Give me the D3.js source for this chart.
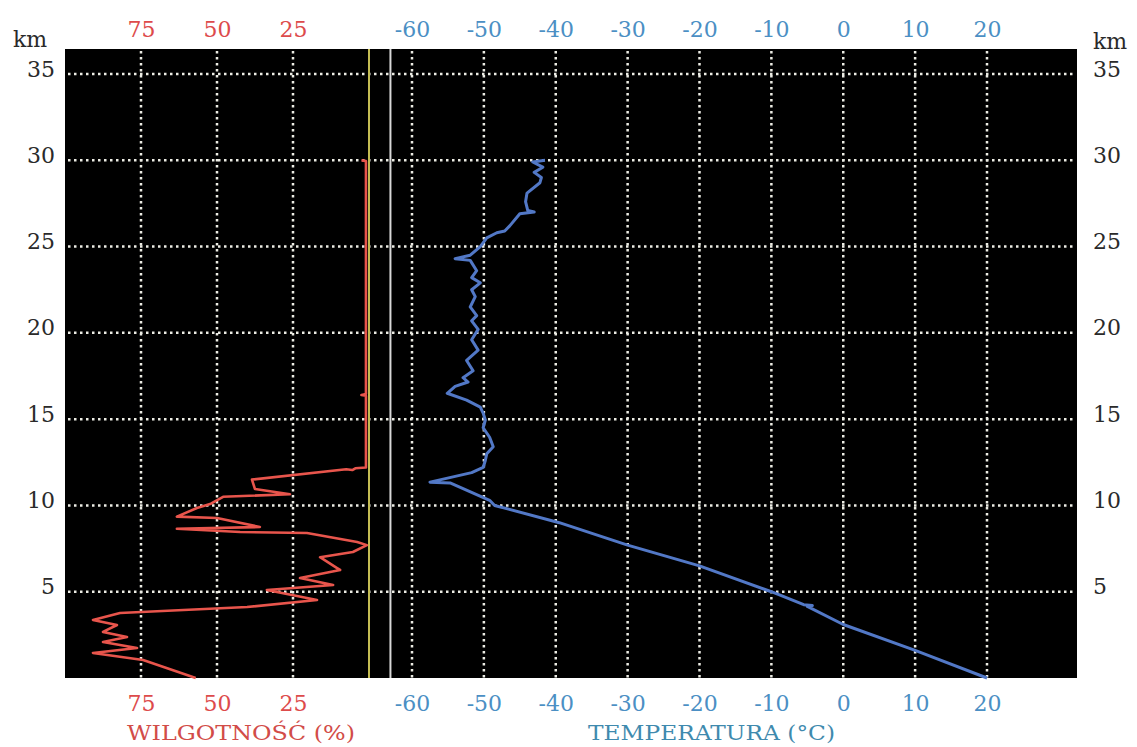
<!DOCTYPE html>
<html lang="pl">
<head>
<meta charset="UTF-8">
<title>Sondaż atmosfery</title>
<script src="https://cdn.jsdelivr.net/npm/d3@7/dist/d3.min.js"></script>
<style>
    body { margin: 0; background: #fff; }
    svg { display: block; }
    .tick text { font-family: "DejaVu Serif", serif; }
    .grid { fill: none; stroke: #ecece4; stroke-width: 2.5; stroke-dasharray: 2.5,3.5; }
</style>
</head>
<body>
<div id="chart"></div>
<script>
// altitude ticks (km) and the two horizontal scales
var kmTicks = [5, 10, 15, 20, 25, 30, 35];
var humTicks = [75, 50, 25];
var tempTicks = [-60, -50, -40, -30, -20, -10, 0, 10, 20];
var humZero = 0;        // yellow reference line
var tempFrame = -63;    // white solid separator

// humidity profile (%), top -> bottom
var humAlt = [30.0, 29.95, 29.9, 16.45, 16.4, 16.35, 12.2, 12.15, 12.05, 12.1, 11.5, 10.95, 10.65, 10.5, 10.1, 9.85, 9.35,
    9.27, 8.75, 8.65, 8.46, 8.4, 7.88, 7.7, 7.3, 7.0, 6.37, 6.26, 5.79, 5.39, 5.1, 4.52, 4.11, 3.77, 3.36, 3.07,
    2.67, 2.38, 2.09, 1.74, 1.45, 1.04, 0.0];
var humVal = [2.5, 1.0, 1.0, 1.0, 2.5, 1.0, 1.0, 4.5, 5.5, 7.5, 38.5, 37.5, 26, 48, 52, 56.6, 63.2,
    50, 35.9, 63.2, 42.4, 20.4, 3.9, 0.7, 5.3, 16.1, 10.5, 9.5, 22.7, 11.8, 33.6, 17.1, 40.1, 81.9, 90.8, 82.9,
    87.5, 79.6, 87.5, 76.3, 90.8, 74.3, 57];

// temperature profile (°C), top -> bottom
var tempAlt = [30.0, 29.9, 29.6, 29.3, 29.0, 28.7, 28.1, 27.6, 27.1, 27.0, 26.9, 26.2, 25.9, 25.8, 25.5, 25.0,
    24.5, 24.3, 24.2, 23.6, 23.2, 22.9, 22.5, 22.1, 21.5, 21.0, 20.7, 20.2, 19.6, 19.0, 18.4, 17.8, 17.4, 17.15,
    16.9, 16.5, 16.1, 15.7, 15.35, 14.95, 14.5, 13.95, 13.4, 13.0, 12.6, 12.2, 11.9, 11.35, 11.3, 10.3, 10.0,
    9.0, 7.7, 6.5, 5.0, 4.25, 4.2, 4.15, 3.1, 1.6, 0.0];
var tempVal = [-41.5, -43.2, -41.8, -43.0, -42.0, -42.2, -44.0, -44.2, -43.9, -43.0, -45.0, -46.4, -47.1, -48.2, -49.6, -50.5,
    -51.9, -54.0, -51.9, -51.0, -51.7, -50.5, -51.7, -51.2, -51.9, -51.0, -51.7, -50.8, -51.7, -50.8, -52.4, -51.5, -52.9, -52.2,
    -54.0, -55.1, -52.4, -50.5, -50.1, -49.8, -50.1, -49.2, -48.7, -49.6, -49.8, -50.1, -51.7, -57.5, -54.7, -49.2, -48.5,
    -39.5, -30, -20, -10, -5.5, -4.3, -5.0, 0, 10, 20];

var W = 1137, H = 747;
var plot = { left: 65, right: 1077, top: 49, bottom: 678 };

var y = d3.scaleLinear().domain([0, 35]).range([plot.bottom, 74]);
var xHum = d3.scaleLinear().domain([100, 0]).range([plot.left, 369]);
var xTemp = d3.scaleLinear().domain([-60, 20]).range([412, 987]);

var red = "#dd4b4b", blue = "#4b8fc4";
var plain = function(d) { return String(d); };  // hyphen minus like the original

var svg = d3.select("#chart").append("svg")
    .attr("width", W).attr("height", H);

svg.append("rect")
    .attr("x", plot.left).attr("y", plot.top)
    .attr("width", plot.right - plot.left).attr("height", plot.bottom - plot.top)
    .attr("fill", "#000");

// dotted grid
svg.selectAll(".hgrid").data(kmTicks).enter().append("line")
    .attr("class", "grid")
    .attr("x1", plot.left + 3).attr("x2", plot.right - 2)
    .attr("y1", d => y(d)).attr("y2", d => y(d));

svg.selectAll(".vhum").data(humTicks).enter().append("line")
    .attr("class", "grid")
    .attr("x1", d => xHum(d)).attr("x2", d => xHum(d))
    .attr("y1", plot.top + 2).attr("y2", plot.bottom);

svg.selectAll(".vtemp").data(tempTicks).enter().append("line")
    .attr("class", "grid")
    .attr("x1", d => xTemp(d)).attr("x2", d => xTemp(d))
    .attr("y1", plot.top + 2).attr("y2", plot.bottom);

// reference lines
svg.append("line")
    .attr("x1", xHum(humZero)).attr("x2", xHum(humZero))
    .attr("y1", plot.top).attr("y2", plot.bottom)
    .attr("stroke", "#c4bc52").attr("stroke-width", 2);

svg.append("line")
    .attr("x1", xTemp(tempFrame)).attr("x2", xTemp(tempFrame))
    .attr("y1", plot.top).attr("y2", plot.bottom)
    .attr("stroke", "#d8d8d8").attr("stroke-width", 2);

// profiles
var humLine = d3.line().x(i => xHum(humVal[i])).y(i => y(humAlt[i]));
var tempLine = d3.line().x(i => xTemp(tempVal[i])).y(i => y(tempAlt[i]));

svg.append("path")
    .attr("d", humLine(d3.range(humVal.length)))
    .attr("fill", "none").attr("stroke", "#e8554c")
    .attr("stroke-width", 2.6).attr("stroke-linejoin", "round");

svg.append("path")
    .attr("d", tempLine(d3.range(tempVal.length)))
    .attr("fill", "none").attr("stroke", "#5278c6")
    .attr("stroke-width", 3).attr("stroke-linejoin", "round");

// axes
function styleAxis(g, color) {
    g.select(".domain").remove();
    g.selectAll(".tick line").remove();
    g.selectAll(".tick text").attr("fill", color).style("font-size", "22px");
}

svg.append("g").attr("transform", "translate(0," + (plot.top - 12) + ")")
    .call(d3.axisTop(xHum).tickValues(humTicks).tickFormat(plain).tickSize(0).tickPadding(0))
    .call(g => styleAxis(g, red));
svg.append("g").attr("transform", "translate(0," + (plot.top - 12) + ")")
    .call(d3.axisTop(xTemp).tickValues(tempTicks).tickFormat(plain).tickSize(0).tickPadding(0))
    .call(g => styleAxis(g, blue));

svg.append("g").attr("transform", "translate(0," + (plot.bottom + 17) + ")")
    .call(d3.axisBottom(xHum).tickValues(humTicks).tickFormat(plain).tickSize(0).tickPadding(0))
    .call(g => styleAxis(g, red));
svg.append("g").attr("transform", "translate(0," + (plot.bottom + 17) + ")")
    .call(d3.axisBottom(xTemp).tickValues(tempTicks).tickFormat(plain).tickSize(0).tickPadding(0))
    .call(g => styleAxis(g, blue));

svg.append("g").attr("transform", "translate(55,-5)")
    .call(d3.axisLeft(y).tickValues(kmTicks).tickFormat(plain).tickSize(0).tickPadding(0))
    .call(g => styleAxis(g, "#2a2a2a"));
svg.append("g").attr("transform", "translate(1093,-5)")
    .call(d3.axisRight(y).tickValues(kmTicks).tickFormat(plain).tickSize(0).tickPadding(0))
    .call(g => styleAxis(g, "#2a2a2a"));

// km unit labels
svg.append("text").attr("x", 13).attr("y", 47).text("km")
    .attr("fill", "#2a2a2a").style("font-family", "DejaVu Serif, serif").style("font-size", "22px");
svg.append("text").attr("x", 1093).attr("y", 49).text("km")
    .attr("fill", "#2a2a2a").style("font-family", "DejaVu Serif, serif").style("font-size", "22px");

// axis titles
svg.append("text").attr("x", 127).attr("y", 740)
    .attr("textLength", 228).attr("lengthAdjust", "spacingAndGlyphs")
    .attr("fill", "#d24c48").style("font-family", "DejaVu Serif, serif").style("font-size", "21px")
    .text("WILGOTNOŚĆ (%)");
svg.append("text").attr("x", 588).attr("y", 740)
    .attr("textLength", 247).attr("lengthAdjust", "spacingAndGlyphs")
    .attr("fill", "#3f8aae").style("font-family", "DejaVu Serif, serif").style("font-size", "21px")
    .text("TEMPERATURA (°C)");
</script>
</body>
</html>
